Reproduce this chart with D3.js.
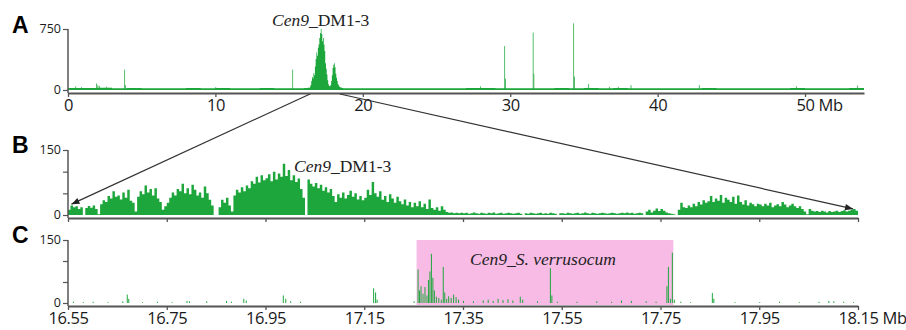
<!DOCTYPE html>
<html>
<head>
<meta charset="utf-8">
<script src="https://cdn.jsdelivr.net/npm/d3@7"></script>
<style>
  body { margin: 0; background: #fff; }
  svg { display: block; }
</style>
</head>
<body>
<svg id="chart" width="906" height="330"></svg>
<script>
// ---- data ----
const genomeTicks = [0, 10, 20, 30, 40, 50];
const zoomTicks = [16.55, 16.75, 16.95, 17.15, 17.35, 17.55, 17.75, 17.95, 18.15];
const zoomTickLabels = ["16.55", "16.75", "16.95", "17.15", "17.35", "17.55", "17.75", "17.95", "18.15"];

// panel A: whole chromosome, 1 Mb background bins
const aBackStep = 1;
const aBackground = [26, 24, 28, 22, 24, 22, 22, 23, 24, 22, 24, 22, 23, 24, 22, 23, 24, 24,
  22, 23, 22, 23, 22, 23, 22, 23, 22, 24, 24, 22, 23, 22, 23, 24, 22, 24, 23, 24, 22, 23,
  22, 22, 23, 24, 22, 23, 22, 23, 22, 24, 23, 22, 23, 26];
// panel A: centromere region, 0.05 Mb bins from 16.30
const aCenStart = 16.3;
const aCenStep = 0.05;
const aCenValues = [30, 25, 40, 60, 110, 160, 140, 210, 180, 290, 380, 460, 420, 520, 560,
  640, 700, 750, 690, 600, 640, 560, 480, 330, 260, 190, 120, 70, 50, 45, 60, 110, 180, 270,
  310, 330, 280, 200, 150, 110, 70, 55, 40, 35, 30, 28, 25];
// panel A: isolated peaks
const aSpikePos = [0.5, 0.9, 1.9, 2.0, 2.1, 2.6, 3.82, 3.87, 10.0, 15.22, 27.95, 29.6, 29.65,
  31.53, 31.58, 34.28, 34.33, 35.3, 36.7, 37.3, 38.17, 42.8, 49.4, 53.55];
const aSpikeVal = [45, 35, 80, 60, 50, 40, 250, 60, 35, 250, 45, 540, 140,
  705, 200, 820, 165, 75, 40, 40, 60, 60, 45, 55];

// panel B: DM1-3 reads, 5 kb bins from 16.55 Mb
const bStart = 16.55;
const bStep = 0.005;
const bValues = [
  12, 22, 18, 20, 14, 18, 0, 16, 21, 17, 22, 14, 2, 25, 34, 30, 44, 38, 55, 42,
  45, 36, 52, 40, 58, 33, 28, 8, 42, 55, 48, 68, 52, 60, 45, 62, 38, 30, 12, 20,
  28, 40, 52, 45, 60, 55, 72, 50, 62, 48, 70, 58, 45, 52, 40, 66, 50, 35, 22, 0,
  0, 18, 35, 28, 40, 22, 8, 45, 58, 52, 64, 55, 68, 62, 78, 72, 88, 75, 92, 80,
  85, 94, 78, 100, 82, 96, 88, 118, 90, 104, 80, 92, 76, 84, 60, 40, 0, 82, 72, 66,
  74, 62, 70, 56, 64, 52, 60, 44, 30, 48, 40, 52, 38, 46, 56, 42, 50, 36, 44, 34,
  40, 58, 46, 76, 50, 42, 55, 35, 44, 30, 48, 38, 28, 42, 32, 25, 36, 22, 30, 18,
  28, 20, 32, 18, 26, 14, 36, 16, 12, 18, 10, 20, 12, 7, 5, 6, 4, 5, 4, 5,
  4, 5, 3, 4, 6, 4, 3, 5, 4, 3, 5, 4, 6, 3, 4, 5, 3, 4, 5, 4,
  3, 4, 5, 3, 0, 4, 3, 5, 4, 3, 4, 5, 3, 4, 3, 5, 4, 3, 0, 4,
  4, 3, 5, 4, 3, 4, 5, 3, 4, 6, 4, 3, 5, 4, 3, 4, 5, 4, 3, 4,
  5, 4, 3, 4, 5, 4, 6, 4, 5, 3, 4, 5, 4, 0, 8, 12, 6, 10, 15, 9,
  14, 10, 6, 4, 3, 2, 0, 12, 28, 18, 16, 22, 18, 26, 20, 30, 24, 34, 28, 32,
  44, 30, 38, 33, 46, 28, 40, 35, 30, 42, 26, 45, 30, 24, 34, 22, 28, 25, 20, 26,
  24, 20, 26, 22, 28, 18, 22, 25, 20, 30, 24, 18, 22, 26, 20, 16, 20, 14, 8, 2,
  14, 10, 8, 9, 7, 10, 8, 6, 9, 7, 8, 10, 7, 9, 11, 8, 10, 12, 14, 10
];

// panel C: S. verrucosum reads, sparse 2 kb bins
const cStep = 0.002;
const cPos = [16.56, 16.58, 16.6, 16.63, 16.66, 16.669, 16.672, 16.7, 16.73, 16.76, 16.79,
  16.795, 16.83, 16.87, 16.88, 16.905, 16.91, 16.985, 16.99, 17.0, 17.02, 17.168, 17.172,
  17.175, 17.25,
  17.258, 17.261, 17.264, 17.268, 17.272, 17.276, 17.279, 17.282, 17.285, 17.288, 17.291,
  17.295, 17.3, 17.305, 17.309, 17.312, 17.316, 17.32, 17.325, 17.33, 17.335, 17.34, 17.35,
  17.37, 17.39, 17.4, 17.41, 17.42, 17.43, 17.44, 17.45, 17.465, 17.47, 17.5, 17.526,
  17.529, 17.54, 17.58, 17.62, 17.65, 17.67, 17.69, 17.72, 17.74, 17.762, 17.765, 17.769,
  17.773, 17.777,
  17.79, 17.81, 17.854, 17.857, 17.9, 17.95, 17.99, 18.03, 18.07, 18.09, 18.1, 18.12, 18.14];
const cVal = [3, 2, 3, 2, 4, 20, 10, 2, 3, 2, 5,
  4, 4, 5, 3, 10, 6, 18, 10, 4, 3, 35, 25,
  8, 4,
  80, 30, 40, 22, 38, 18, 55, 75, 117, 60, 30,
  15, 12, 8, 86, 25, 10, 16, 12, 20, 14, 8, 5,
  4, 6, 8, 5, 10, 7, 9, 6, 15, 8, 4, 83,
  18, 3, 3, 4, 3, 6, 5, 4, 3, 40, 86, 10,
  120, 8,
  3, 2, 24, 10, 2, 2, 3, 2, 3, 5, 4, 3, 2];
const cHighlight = [17.256, 17.776];

// ---- layout ----
const GREEN = "#1ca63b";
const AXIS = "#555";
const svg = d3.select("#chart");

const xA = d3.scaleLinear().domain([0, 54]).range([68, 864]);
const yA = d3.scaleLinear().domain([0, 750]).range([90, 29]);
const xZ = d3.scaleLinear().domain([16.55, 18.15]).range([68, 858]);
const yB = d3.scaleLinear().domain([0, 150]).range([215, 150]);
const yC = d3.scaleLinear().domain([0, 150]).range([303, 240]);

const axisYA = 93, axisYB = 218, axisYC = 306;

// arrow marker
svg.append("defs")
  .append("marker")
  .attr("id", "arrowhead")
  .attr("viewBox", "0 -5 10 10")
  .attr("refX", 10)
  .attr("refY", 0)
  .attr("orient", "auto")
  .attr("markerUnits", "userSpaceOnUse")
  .attr("markerWidth", 10)
  .attr("markerHeight", 8)
  .append("path")
  .attr("d", "M0,-4L10,0L0,4Z")
  .attr("fill", "#222");

// sparse peaks as thin bars
function drawBars(parent, pos, vals, step, x, y) {
  const g = parent.append("g").attr("fill", GREEN);
  g.selectAll("rect")
    .data(pos.map((p, i) => ({ p: p, v: vals[i] })))
    .join("rect")
    .attr("x", (d) => x(d.p))
    .attr("width", (d) => x(d.p + step) - x(d.p))
    .attr("y", (d) => y(d.v))
    .attr("height", (d) => y(0) - y(d.v));
  return g;
}

// contiguous bins as one stepped area (no seams between bars)
function drawSteps(parent, start, step, vals, x, y) {
  const pts = vals.map((v, i) => ({ p: start + i * step, v: v }));
  pts.push({ p: start + vals.length * step, v: vals[vals.length - 1] });
  const area = d3.area()
    .curve(d3.curveStepAfter)
    .x((d) => x(d.p))
    .y0(y(0))
    .y1((d) => y(d.v));
  return parent.append("path").datum(pts).attr("d", area).attr("fill", GREEN);
}

function xAxis(scale, yPos, ticks, labels) {
  const g = svg.append("g")
    .attr("transform", "translate(0," + yPos + ")")
    .call(
      d3.axisBottom(scale)
        .tickValues(ticks)
        .tickSize(4)
        .tickSizeOuter(0)
        .tickPadding(2)
        .tickFormat((d, i) => (labels ? labels[i] : ""))
    );
  g.select(".domain").attr("stroke", AXIS).attr("stroke-width", 2);
  g.selectAll(".tick line").attr("stroke", AXIS).attr("stroke-width", 1.3);
  g.selectAll(".tick text")
    .attr("fill", "#1a1a1a")
    .style("font-family", "'Open Sans', sans-serif")
    .style("font-size", "16.5px")
    .style("letter-spacing", "-0.4px");
  return g;
}

function addUnit(axisG) {
  // "Mb" trails the last tick label
  const last = axisG.selectAll(".tick").filter((d, i, n) => i === n.length - 1);
  const t = last.select("text");
  const w = t.node().getComputedTextLength();
  last.append("text")
    .attr("x", w / 2 + 4)
    .attr("y", t.attr("y"))
    .attr("dy", t.attr("dy"))
    .attr("text-anchor", "start")
    .attr("fill", "#1a1a1a")
    .style("font-family", "'Open Sans', sans-serif")
    .style("font-size", "16.5px")
    .style("letter-spacing", "-0.4px")
    .text("Mb");
}

function yAxis(scale, ticks, labelled, bottom) {
  const g = svg.append("g")
    .attr("transform", "translate(68,0)")
    .call(
      d3.axisLeft(scale)
        .tickValues(ticks)
        .tickSize(5)
        .tickSizeOuter(0)
        .tickPadding(2)
        .tickFormat((d) => (labelled.includes(d) ? d : ""))
    );
  g.select(".domain").remove();
  g.append("line")
    .attr("y1", scale(d3.max(ticks)))
    .attr("y2", bottom)
    .attr("stroke", AXIS)
    .attr("stroke-width", 1.5);
  g.selectAll(".tick line").attr("stroke", AXIS).attr("stroke-width", 1.2);
  g.selectAll(".tick text")
    .attr("fill", "#1a1a1a")
    .attr("dy", "0.3em")
    .style("font-family", "'Open Sans', sans-serif")
    .style("font-size", "12.5px");
  return g;
}

function panelLetter(txt, y) {
  svg.append("text")
    .attr("x", 12)
    .attr("y", y)
    .style("font-family", "'Liberation Sans', Arial, sans-serif")
    .style("font-weight", "bold")
    .style("font-size", "23px")
    .text(txt);
}

function cenLabel(x, y, italicPart, plainPart) {
  const t = svg.append("text")
    .attr("x", x)
    .attr("y", y)
    .attr("fill", "#222")
    .style("font-family", "'Liberation Serif', 'Times New Roman', serif")
    .style("font-size", "17.5px");
  t.append("tspan").style("font-style", "italic").text(italicPart);
  if (plainPart) t.append("tspan").text(plainPart);
}

// ---- panel A ----
drawSteps(svg, 0, aBackStep, aBackground, xA, yA);
drawSteps(svg, aCenStart, aCenStep, aCenValues, xA, yA);
drawBars(svg, aSpikePos, aSpikeVal, 0.05, xA, yA);
yAxis(yA, [0, 750], [0, 750], axisYA);
addUnit(xAxis(xA, axisYA, genomeTicks, genomeTicks.map(String)));
panelLetter("A", 33);
cenLabel(272, 26, "Cen9", "_DM1-3");

// ---- panel B ----
drawSteps(svg, bStart, bStep, bValues, xZ, yB);
yAxis(yB, [0, 50, 100, 150], [0, 150], axisYB);
xAxis(xZ, axisYB, zoomTicks, null);
panelLetter("B", 153);
cenLabel(294, 172, "Cen9", "_DM1-3");

// ---- panel C ----
svg.append("rect")
  .attr("x", xZ(cHighlight[0]))
  .attr("width", xZ(cHighlight[1]) - xZ(cHighlight[0]))
  .attr("y", yC(150))
  .attr("height", axisYC - 1 - yC(150))
  .attr("fill", "#f8bbe5");
drawBars(svg, cPos, cVal, cStep, xZ, yC);
yAxis(yC, [0, 50, 100, 150], [0, 150], axisYC);
addUnit(xAxis(xZ, axisYC, zoomTicks, zoomTickLabels));
panelLetter("C", 243);
cenLabel(470, 265, "Cen9_S. verrusocum", null);

// ---- zoom arrows from A to B ----
const arrowFrom = [16.42, 18.45];
const arrowTo = [[16.557, 25], [18.14, 14]];
svg.append("g")
  .selectAll("line")
  .data([0, 1])
  .join("line")
  .attr("x1", (i) => xA(arrowFrom[i]))
  .attr("y1", axisYA + 1)
  .attr("x2", (i) => xZ(arrowTo[i][0]))
  .attr("y2", (i) => yB(arrowTo[i][1]))
  .attr("stroke", "#333")
  .attr("stroke-width", 1.2)
  .attr("marker-end", "url(#arrowhead)");
</script>
</body>
</html>
